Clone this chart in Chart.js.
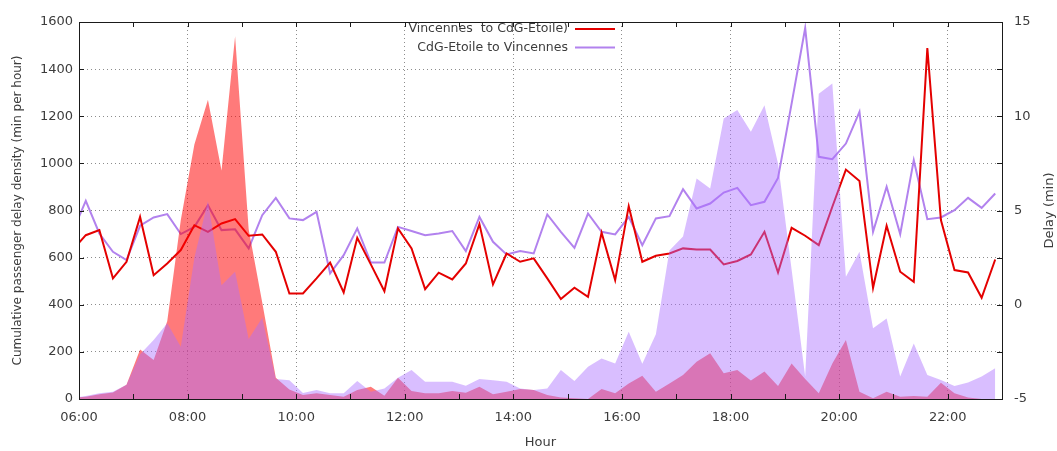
<!DOCTYPE html>
<html>
<head>
<meta charset="utf-8">
<script src="https://cdn.jsdelivr.net/npm/chart.js@4.4.0/dist/chart.umd.min.js"></script>
<style>
  html, body { margin: 0; padding: 0; background: #fff; }
</style>
</head>
<body>
<canvas id="chart" width="1057" height="451"></canvas>
<script>
// time of each sample, in hours (15 min bins); the first one sits just left of the axis
const hours = [5.875, 6.125, 6.375, 6.625, 6.875, 7.125, 7.375, 7.625, 7.875, 8.125,
  8.375, 8.625, 8.875, 9.125, 9.375, 9.625, 9.875, 10.125, 10.375, 10.625,
  10.875, 11.125, 11.375, 11.625, 11.875, 12.125, 12.375, 12.625, 12.875, 13.125,
  13.375, 13.625, 13.875, 14.125, 14.375, 14.625, 14.875, 15.125, 15.375, 15.625,
  15.875, 16.125, 16.375, 16.625, 16.875, 17.125, 17.375, 17.625, 17.875, 18.125,
  18.375, 18.625, 18.875, 19.125, 19.375, 19.625, 19.875, 20.125, 20.375, 20.625,
  20.875, 21.125, 21.375, 21.625, 21.875, 22.125, 22.375, 22.625, 22.875];

// cumulative passenger delay density (min per hour), left axis
const densityToEtoile = [5, 10, 20, 28, 60, 210, 165, 330, 760, 1080,
  1270, 970, 1540, 720, 410, 90, 40, 17, 24, 17,
  10, 38, 52, 14, 90, 34, 24, 24, 34, 27,
  52, 20, 31, 42, 38, 17, 6, 3, 0, 42,
  24, 66, 99, 31, 66, 102, 158, 194, 109, 123,
  78, 117, 55, 151, 85, 24, 151, 250, 31, 3,
  31, 10, 13, 10, 69, 24, 6, 0, 0];
const densityToVincennes = [5, 13, 24, 31, 60, 190, 250, 322, 222, 600,
  840, 483, 540, 255, 345, 85, 80, 25, 38, 24,
  24, 76, 31, 45, 90, 123, 73, 73, 73, 56,
  85, 80, 73, 45, 38, 45, 123, 76, 137, 172,
  151, 285, 150, 275, 630, 690, 936, 893, 1190, 1226,
  1134, 1247, 1000, 550, 95, 1296, 1339, 519, 625, 300,
  342, 95, 236, 102, 81, 55, 70, 95, 130];

// delay (min), right axis
const delayToEtoile = [2.88, 3.69, 3.96, 1.40, 2.28, 4.66, 1.57, 2.19, 2.90, 4.22,
  3.87, 4.31, 4.54, 3.66, 3.73, 2.81, 0.60, 0.60, 1.40, 2.24,
  0.65, 3.55, 2.14, 0.72, 4.05, 2.99, 0.83, 1.70, 1.34, 2.19,
  4.28, 1.08, 2.72, 2.28, 2.46, 1.40, 0.30, 0.90, 0.42, 3.82,
  1.31, 5.23, 2.28, 2.60, 2.72, 2.99, 2.93, 2.93, 2.14, 2.32,
  2.67, 3.87, 1.71, 4.08, 3.66, 3.16, 5.20, 7.17, 6.57, 0.90,
  4.19, 1.75, 1.22, 13.62, 4.49, 1.84, 1.71, 0.37, 2.40];
const delayToVincennes = [3.82, 5.51, 3.78, 2.81, 2.37, 4.19, 4.63, 4.81, 3.75, 4.13,
  5.28, 3.96, 4.00, 2.99, 4.75, 5.67, 4.58, 4.49, 4.93, 1.66,
  2.63, 4.05, 2.24, 2.24, 4.13, 3.91, 3.69, 3.78, 3.91, 2.85,
  4.66, 3.34, 2.67, 2.85, 2.72, 4.79, 3.87, 3.02, 4.84, 3.87,
  3.73, 4.66, 3.16, 4.58, 4.70, 6.13, 5.11, 5.37, 5.95, 6.20,
  5.28, 5.46, 6.73, 10.67, 14.68, 7.85, 7.72, 8.55, 10.23, 3.87,
  6.26, 3.75, 7.67, 4.54, 4.63, 5.02, 5.67, 5.14, 5.90];

const seriesLabels = ['Vincennes  to CdG-Etoile)', 'CdG-Etoile to Vincennes'];
const axisTitles = {
  x: 'Hour',
  y: 'Cumulative passenger delay density (min per hour)',
  y2: 'Delay (min)'
};

const textColor = '#3c3c3c';
const font = '"DejaVu Sans", Verdana, sans-serif';
const red = 'rgb(228,0,0)';
const purple = 'rgb(178,130,238)';

function pts(ys) {
  return hours.map((h, i) => ({ x: h, y: ys[i] }));
}

function pad2(n) {
  return (n < 10 ? '0' : '') + n;
}

// frame, inward ticks, axis titles and the key, gnuplot style
const gnuplotFrame = {
  id: 'gnuplotFrame',
  afterDraw(chart) {
    const { ctx, chartArea: a, scales } = chart;
    ctx.save();
    ctx.strokeStyle = '#1a1a1a';
    ctx.lineWidth = 1;
    ctx.beginPath();
    for (let h = scales.x.min; h <= scales.x.max; h++) {
      const x = Math.round(scales.x.getPixelForValue(h)) + 0.5;
      ctx.moveTo(x, a.bottom); ctx.lineTo(x, a.bottom - 5);
      ctx.moveTo(x, a.top); ctx.lineTo(x, a.top + 5);
    }
    scales.y.ticks.forEach(t => {
      const y = Math.round(scales.y.getPixelForValue(t.value)) + 0.5;
      ctx.moveTo(a.left, y); ctx.lineTo(a.left + 5, y);
    });
    for (let d = scales.y2.min; d <= scales.y2.max; d += 2.5) {
      const y = Math.round(scales.y2.getPixelForValue(d)) + 0.5;
      ctx.moveTo(a.right, y); ctx.lineTo(a.right - 5, y);
    }
    ctx.stroke();
    ctx.strokeRect(Math.round(a.left) + 0.5, Math.round(a.top) + 0.5,
      Math.round(a.right - a.left), Math.round(a.bottom - a.top));

    // axis titles
    ctx.fillStyle = textColor;
    ctx.textAlign = 'center';
    ctx.textBaseline = 'middle';
    const midY = (a.top + a.bottom) / 2;
    ctx.font = '13px ' + font;
    ctx.fillText(axisTitles.x, (a.left + a.right) / 2, a.bottom + 44);
    ctx.save();
    ctx.font = '12px ' + font;
    ctx.translate(18, midY);
    ctx.rotate(-Math.PI / 2);
    ctx.fillText(axisTitles.y, 0, 0);
    ctx.restore();
    ctx.save();
    ctx.font = '13px ' + font;
    ctx.translate(a.right + 48, midY);
    ctx.rotate(-Math.PI / 2);
    ctx.fillText(axisTitles.y2, 0, 0);
    ctx.restore();

    // key
    ctx.font = '12.5px ' + font;
    ctx.textAlign = 'right';
    const keyX = 568;
    [0, 1].forEach(i => {
      const ds = chart.data.datasets[i];
      const y = a.top + 7 + i * 18.5;
      ctx.fillStyle = textColor;
      ctx.fillText(ds.label, keyX, y);
      ctx.strokeStyle = ds.borderColor;
      ctx.lineWidth = 2;
      ctx.beginPath();
      ctx.moveTo(keyX + 7, y); ctx.lineTo(keyX + 47, y);
      ctx.stroke();
    });
    ctx.restore();
  }
};

const gridColor = 'rgba(0,0,0,0.45)';

new Chart(document.getElementById('chart'), {
  type: 'line',
  data: {
    datasets: [
      {
        label: seriesLabels[0],
        data: pts(delayToEtoile),
        yAxisID: 'y2',
        borderColor: red,
        borderWidth: 2,
        pointRadius: 0,
        fill: false,
        tension: 0,
        order: 3
      },
      {
        label: seriesLabels[1],
        data: pts(delayToVincennes),
        yAxisID: 'y2',
        borderColor: purple,
        borderWidth: 2,
        pointRadius: 0,
        fill: false,
        tension: 0,
        order: 4
      },
      {
        label: seriesLabels[0] + ' density',
        data: pts(densityToEtoile),
        yAxisID: 'y',
        borderWidth: 0,
        borderColor: 'rgba(0,0,0,0)',
        backgroundColor: 'rgba(255,0,0,0.52)',
        pointRadius: 0,
        fill: 'origin',
        tension: 0,
        order: 2
      },
      {
        label: seriesLabels[1] + ' density',
        data: pts(densityToVincennes),
        yAxisID: 'y',
        borderWidth: 0,
        borderColor: 'rgba(0,0,0,0)',
        backgroundColor: 'rgba(170,110,255,0.45)',
        pointRadius: 0,
        fill: 'origin',
        tension: 0,
        order: 1
      }
    ]
  },
  options: {
    responsive: false,
    animation: false,
    events: [],
    layout: { padding: { top: 22, left: 0, right: 0, bottom: 0 } },
    plugins: {
      legend: { display: false },
      tooltip: { enabled: false }
    },
    scales: {
      x: {
        type: 'linear',
        min: 6,
        max: 23,
        afterFit: s => { s.height = 52; },
        ticks: {
          stepSize: 1,
          autoSkip: false,
          maxRotation: 0,
          padding: 11,
          color: textColor,
          font: { family: font, size: 13 },
          callback: v => (v % 2 === 0 ? pad2(v) + ':00' : '')
        },
        grid: {
          drawTicks: false,
          color: c => (c.tick && c.tick.value % 2 === 0 ? gridColor : 'rgba(0,0,0,0)')
        },
        border: { display: false, dash: [1, 3] }
      },
      y: {
        position: 'left',
        min: 0,
        max: 1600,
        afterFit: s => { s.width = 79; },
        ticks: {
          stepSize: 200,
          padding: 6,
          color: textColor,
          font: { family: font, size: 13 },
          callback: v => String(v)
        },
        grid: { drawTicks: false, color: gridColor },
        border: { display: false, dash: [1, 3] }
      },
      y2: {
        position: 'right',
        min: -5,
        max: 15,
        afterFit: s => { s.width = 55; },
        ticks: {
          stepSize: 5,
          padding: 12,
          color: textColor,
          font: { family: font, size: 13 },
          callback: v => String(v)
        },
        grid: { drawOnChartArea: false, drawTicks: false },
        border: { display: false }
      }
    }
  },
  plugins: [gnuplotFrame]
});
</script>
</body>
</html>
